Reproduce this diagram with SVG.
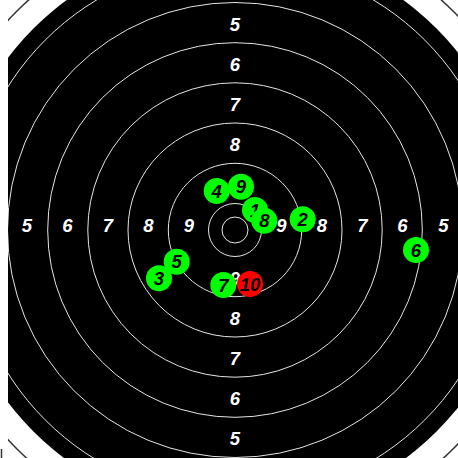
<svg xmlns="http://www.w3.org/2000/svg" width="458" height="458" viewBox="0 0 458 458">
  <style>
    .ring { fill: none; stroke: #e6e6e6; stroke-width: 1; }
    .outer { fill: none; stroke: #333333; stroke-width: 1.5; }
    .lbl { font-family: "Liberation Sans", Arial, sans-serif; font-size: 18.5px; font-weight: bold; font-style: italic; fill: #ffffff; text-anchor: middle; }
    .shot { fill: #00ff00; }
    .shot.last { fill: #ff0000; }
    .num { font-family: "Liberation Sans", Arial, sans-serif; font-size: 18.5px; font-weight: bold; font-style: italic; fill: #000000; text-anchor: middle; }
  </style>
  <defs>
    <clipPath id="clip"><rect x="8" y="0" width="450" height="458"/></clipPath>
  </defs>
  <rect x="0" y="0" width="458" height="458" fill="#ffffff"/>
  <g id="target" clip-path="url(#clip)">
    <circle class="outer" cx="235" cy="230" r="309"/>
    <circle cx="235" cy="230" r="285" fill="#000000"/>
    <circle class="ring" cx="235" cy="230" r="268.5"/>
    <circle class="ring" cx="235" cy="230" r="227.5"/>
    <circle class="ring" cx="235" cy="230" r="187.3"/>
    <circle class="ring" cx="235" cy="230" r="147.2"/>
    <circle class="ring" cx="235" cy="230" r="107"/>
    <circle class="ring" cx="235" cy="230" r="66.7"/>
    <circle class="ring" cx="235" cy="230" r="26.5"/>
    <circle class="ring" cx="235" cy="230" r="13"/>
  </g>
  <line x1="1.5" y1="449" x2="1.5" y2="458" stroke="#333333" stroke-width="1.5"/>
  <g id="labels">
    <text class="lbl" x="235" y="30.5">5</text>
    <text class="lbl" x="235" y="70.5">6</text>
    <text class="lbl" x="235" y="110.5">7</text>
    <text class="lbl" x="235" y="150.5">8</text>
    <text class="lbl" x="235" y="284.5">9</text>
    <text class="lbl" x="235" y="324.5">8</text>
    <text class="lbl" x="235" y="364.5">7</text>
    <text class="lbl" x="235" y="404.5">6</text>
    <text class="lbl" x="235" y="445">5</text>
    <text class="lbl" x="27" y="231.5">5</text>
    <text class="lbl" x="67.5" y="231.5">6</text>
    <text class="lbl" x="108" y="231.5">7</text>
    <text class="lbl" x="148.5" y="231.5">8</text>
    <text class="lbl" x="189" y="231.5">9</text>
    <text class="lbl" x="281.5" y="231.5">9</text>
    <text class="lbl" x="322" y="231.5">8</text>
    <text class="lbl" x="362.5" y="231.5">7</text>
    <text class="lbl" x="402.5" y="231.5">6</text>
    <text class="lbl" x="443.5" y="231.5">5</text>
  </g>
  <g id="shot1"><circle class="shot" cx="255" cy="210" r="13"/><text class="num" x="255" y="216.5">1</text></g>
  <g id="shot2"><circle class="shot" cx="302.7" cy="219.3" r="13"/><text class="num" x="302.7" y="225.8">2</text></g>
  <g id="shot3"><circle class="shot" cx="159" cy="278.3" r="13"/><text class="num" x="159" y="284.8">3</text></g>
  <g id="shot4"><circle class="shot" cx="216.7" cy="191" r="13"/><text class="num" x="216.7" y="197.5">4</text></g>
  <g id="shot5"><circle class="shot" cx="176.7" cy="261.7" r="13"/><text class="num" x="176.7" y="268.2">5</text></g>
  <g id="shot6"><circle class="shot" cx="416" cy="250" r="13"/><text class="num" x="416" y="256.5">6</text></g>
  <g id="shot7"><circle class="shot" cx="223.3" cy="285" r="13"/><text class="num" x="223.3" y="291.5">7</text></g>
  <g id="shot8"><circle class="shot" cx="264.3" cy="220.7" r="13"/><text class="num" x="264.3" y="227.2">8</text></g>
  <g id="shot9"><circle class="shot" cx="241" cy="186.7" r="13"/><text class="num" x="241" y="193.2">9</text></g>
  <g id="shot10"><circle class="shot last" cx="250" cy="284" r="13"/><text class="num" x="250" y="290.5">10</text></g>
</svg>
